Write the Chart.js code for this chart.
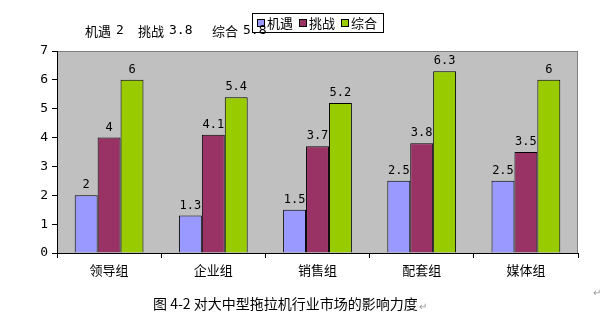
<!DOCTYPE html>
<html>
<head>
<meta charset="utf-8">
<script src="https://cdn.jsdelivr.net/npm/chart.js@4/dist/chart.umd.min.js"></script>
<style>
  html, body { margin: 0; padding: 0; background: #ffffff; }
  #wrap { position: relative; width: 612px; height: 328px; }
</style>
</head>
<body>
<div id="wrap"><canvas id="c" width="612" height="328"></canvas></div>
<script>
// Groups along the x axis
const categories = ['领导组', '企业组', '销售组', '配套组', '媒体组'];
// Series values
const seriesNames = ['机遇', '挑战', '综合'];
const opportunity = [2, 1.3, 1.5, 2.5, 2.5];
const challenge = [4, 4.1, 3.7, 3.8, 3.5];
const overall = [6, 5.4, 5.2, 6.3, 6];
const seriesColors = ['#9999FF', '#993366', '#99CC00'];
// Summary line above the plot
const summaryItems = [['机遇', '2'], ['挑战', '3.8'], ['综合', '5.8']];
const caption = '图 4-2 对大中型拖拉机行业市场的影响力度';

const cjk = '"Noto Sans CJK SC", "Noto Sans", sans-serif';
const numFont = '"DejaVu Sans Mono", "Liberation Mono", monospace';

const plotDecor = {
  id: 'plotDecor',
  beforeDraw(chart) {
    const { ctx, chartArea: a } = chart;
    ctx.save();
    ctx.fillStyle = '#c0c0c0';
    ctx.fillRect(a.left, a.top, a.right - a.left, a.bottom - a.top);
    ctx.strokeStyle = '#808080';
    ctx.lineWidth = 1;
    ctx.strokeRect(a.left + 0.5, a.top + 0.5, a.right - a.left - 1, a.bottom - a.top);
    ctx.restore();
  },
  afterDraw(chart) {
    const { ctx } = chart;
    ctx.save();
    // value labels above bars
    ctx.fillStyle = '#000';
    ctx.font = '12px ' + numFont;
    ctx.textAlign = 'center';
    ctx.textBaseline = 'middle';
    chart.data.datasets.forEach((ds, di) => {
      chart.getDatasetMeta(di).data.forEach((bar, i) => {
        ctx.fillText(String(ds.data[i]), bar.x, bar.y - 10);
      });
    });

    ctx.textAlign = 'left';
    ctx.textBaseline = 'middle';

    // legend box
    const lx = 252, ly = 13, lw = 131, lh = 19;
    ctx.fillStyle = '#ffffff';
    ctx.fillRect(lx, ly, lw, lh);
    ctx.strokeStyle = '#000';
    ctx.lineWidth = 1;
    ctx.strokeRect(lx + 0.5, ly + 0.5, lw, lh);
    const mx = [257, 299, 341];
    chart.data.datasets.forEach((ds, di) => {
      ctx.fillStyle = ds.backgroundColor;
      ctx.fillRect(mx[di], 19, 7, 7);
      ctx.strokeStyle = '#000';
      ctx.strokeRect(mx[di] + 0.5, 19.5, 7, 7);
      ctx.fillStyle = '#000';
      ctx.font = '13px ' + cjk;
      ctx.fillText(ds.label, mx[di] + 10, 23);
    });

    // summary line (drawn over the legend edge)
    const starts = [85, 138, 212];
    summaryItems.forEach((it, i) => {
      ctx.fillStyle = '#000';
      ctx.font = '13px ' + cjk;
      ctx.fillText(it[0], starts[i], 31);
      const w = ctx.measureText(it[0]).width;
      ctx.font = '13px ' + numFont;
      ctx.fillText(it[1], starts[i] + w + 5, 31);
    });

    // caption
    ctx.fillStyle = '#000';
    ctx.font = '14px ' + cjk;
    ctx.fillText(caption, 153, 304);
    const cw = ctx.measureText(caption).width;
    ctx.fillStyle = '#999';
    ctx.font = '10px ' + cjk;
    ctx.fillText('↵', 153 + cw + 1, 306);
    ctx.fillText('↵', 593, 292);
    ctx.restore();
  }
};

new Chart(document.getElementById('c'), {
  type: 'bar',
  data: {
    labels: categories,
    datasets: [opportunity, challenge, overall].map((d, i) => ({
      label: seriesNames[i],
      data: d,
      backgroundColor: seriesColors[i],
      borderColor: '#000000',
      borderWidth: 1,
      borderSkipped: 'bottom',
      categoryPercentage: 0.66,
      barPercentage: 1.0
    }))
  },
  options: {
    responsive: false,
    animation: false,
    devicePixelRatio: 1,
    layout: { padding: { left: 0, top: 51, right: 34, bottom: 0 } },
    plugins: { legend: { display: false }, tooltip: { enabled: false } },
    scales: {
      x: {
        offset: true,
        grid: { offset: true, drawOnChartArea: false, tickLength: 5, color: '#000' },
        border: { color: '#000', width: 1 },
        ticks: { color: '#000', font: { family: cjk, size: 13 }, padding: 4 },
        afterFit(s) { s.height = 75; }
      },
      y: {
        min: 0, max: 7,
        ticks: { stepSize: 1, color: '#000', font: { family: numFont, size: 13 }, padding: 4 },
        grid: { drawOnChartArea: false, tickLength: 5, color: '#000' },
        border: { color: '#000', width: 1 },
        afterFit(s) { s.width = 57; }
      }
    }
  },
  plugins: [plotDecor]
});
</script>
</body>
</html>
